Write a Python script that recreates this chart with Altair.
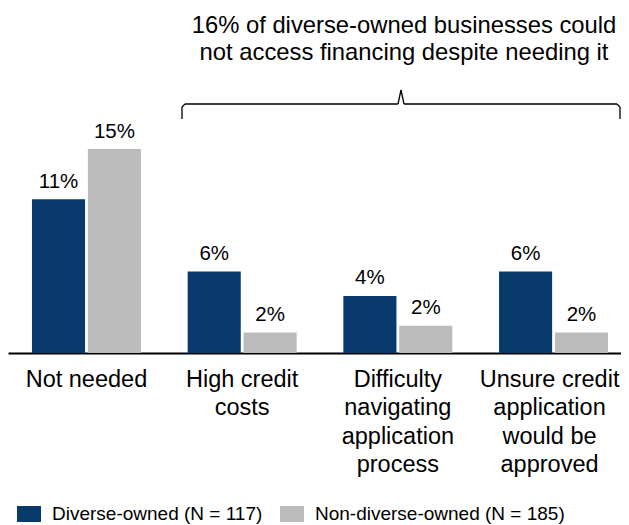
import altair as alt
import pandas as pd

# ---- data ----
categories = [
    "Not needed",
    "High credit\ncosts",
    "Difficulty\nnavigating\napplication\nprocess",
    "Unsure credit\napplication\nwould be\napproved",
]
series = ["Diverse-owned (N = 117)", "Non-diverse-owned (N = 185)"]
diverse_values = [11.3, 6.0, 4.2, 6.0]
non_diverse_values = [15.0, 1.5, 2.0, 1.5]
diverse_labels = ["11%", "6%", "4%", "6%"]
non_diverse_labels = ["15%", "2%", "2%", "2%"]
title_lines = [
    "16% of diverse-owned businesses could",
    "not access financing despite needing it",
]
colors = ["#083A6B", "#BBBBBB"]

FONT = "Liberation Sans"

rows = []
for cat, v, lab in zip(categories, diverse_values, diverse_labels):
    rows.append({"category": cat, "series": series[0], "value": v, "label": lab})
for cat, v, lab in zip(categories, non_diverse_values, non_diverse_labels):
    rows.append({"category": cat, "series": series[1], "value": v, "label": lab})
df = pd.DataFrame(rows)

x_enc = alt.X(
    "category:N",
    sort=categories,
    scale=alt.Scale(range=[0, 624], paddingInner=0.30, paddingOuter=0.154),
    axis=alt.Axis(
        title=None,
        labelExpr="split(datum.label, '\\n')",
        labelAngle=0,
        labelFontSize=23.5,
        labelLineHeight=28.5,
        labelPadding=14,
        labelBaseline="top",
        labelAlign="center",
        labelColor="black",
        labelLimit=400,
        labelFont=FONT,
        labelOffset={
            "condition": {"test": "indexof(datum.value, 'Unsure') == 0", "value": -4},
            "value": 0,
        },
        ticks=False,
        tickSize=0,
        domainColor="black",
        domainWidth=2,
        grid=False,
    ),
)
xo_enc = alt.XOffset(
    "series:N", sort=series, scale=alt.Scale(paddingInner=0.05, paddingOuter=0)
)
y_enc = alt.Y(
    "value:Q", scale=alt.Scale(domain=[0, 25.37], nice=False, zero=True), axis=None
)
color_enc = alt.Color(
    "series:N",
    sort=series,
    scale=alt.Scale(domain=series, range=colors),
    legend=alt.Legend(
        orient="none",
        legendX=9,
        legendY=494,
        direction="horizontal",
        title=None,
        symbolType="M-1,-0.667H1V0.667H-1Z",
        symbolSize=576,
        symbolStrokeWidth=0,
        symbolOpacity=1,
        labelFontSize=19,
        labelOffset=11,
        labelColor="black",
        labelFont=FONT,
        labelLimit=400,
        columnPadding=17,
        padding=0,
    ),
)

bars = alt.Chart(df).mark_bar().encode(x=x_enc, xOffset=xo_enc, y=y_enc, color=color_enc)

labels = (
    alt.Chart(df)
    .mark_text(dy=-11.5, baseline="alphabetic", fontSize=20.5, color="black", font=FONT)
    .encode(x=x_enc, xOffset=xo_enc, y=y_enc, text="label:N")
)

one = pd.DataFrame({"k": [0]})

title = (
    alt.Chart(one)
    .mark_text(
        text=title_lines,
        fontSize=23.8,
        lineHeight=27,
        align="center",
        baseline="alphabetic",
        color="black",
        font=FONT,
    )
    .encode(x=alt.value(396), y=alt.value(25))
)

# brace annotation segments (pixel geometry of the bracket)
brace_segments = [
    (174, 111, 174, 99),
    (174, 99, 177, 96),
    (177, 96, 390, 96),
    (390, 96, 393, 82),
    (393, 82, 396, 96),
    (396, 96, 609, 96),
    (609, 96, 612, 99),
    (612, 99, 612, 111),
]
brace_layers = [
    alt.Chart(one)
    .mark_rule(color="black", strokeWidth=1.3)
    .encode(x=alt.value(a), y=alt.value(b), x2=alt.value(c), y2=alt.value(d))
    for a, b, c, d in brace_segments
]

chart = (
    alt.layer(bars, labels, title, *brace_layers)
    .properties(
        width=613,
        height=345,
        padding={"left": 0, "top": 0, "right": 0, "bottom": 175},
        autosize=alt.AutoSizeParams(type="none"),
    )
    .configure(font=FONT)
    .configure_view(stroke=None)
)

chart.save("out.html", embed_options={"renderer": "svg", "actions": False})
